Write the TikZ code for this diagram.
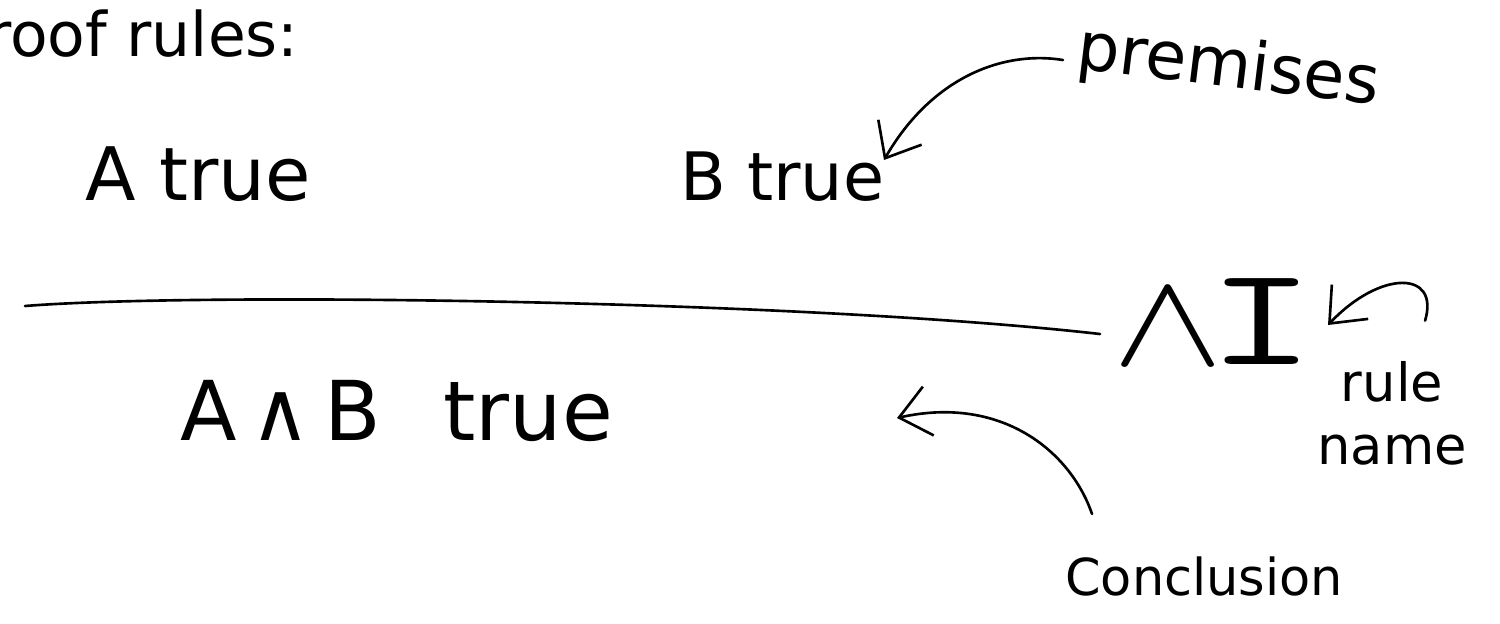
\documentclass[tikz,border=0pt]{standalone}
\usepackage{fontspec}
\setmainfont{DejaVu Sans}
\usetikzlibrary{arrows.meta}
\tikzset{
  ink/.style={line width=1.5pt, line cap=round, line join=round},
  hand/.style={inner sep=0pt, anchor=base west},
  pointer/.style={ink, -{Straight Barb[length=0.6cm,width=1.0cm]}},
}
\newcommand{\sz}[1]{\fontsize{#1}{1.2\dimexpr#1pt\relax}\selectfont}
\begin{document}
\begin{tikzpicture}[x=0.02cm,y=-0.02cm]
\useasboundingbox (0,0) rectangle (1500,623);

% heading
\node[hand, font=\sz{35}] (head) at (-14,56) {roof rules:};

% premises of the rule
\node[hand, font=\sz{42}] (pa) at (85,200) {A true};
\node[hand, font=\sz{38}] (pb) at (680,200) {B true};

% inference line
\coordinate (barL) at (25,306);
\coordinate (barR) at (1100,334);
\draw[ink] (barL) .. controls (200,292) and (800,300) .. (barR);

% rule name and conclusion
\node[hand] (rn) at (1112,364)
  {\scalebox{9.5}[7.6]{$\wedge$}\hspace{-9pt}{\ttfamily\sz{80}\scalebox{1.5}[1]{I}}};
\node[hand, font=\sz{47}] (concl) at (180,440) {A\,∧\,B\hspace{0.75em}true};

% annotations
\node[hand, font=\sz{38}, rotate=-7] (prem) at (1075,68) {premises};
\node[inner sep=0pt, align=center, font=\sz{30}] (rname) at (1392,413) {rule\\name};
\node[hand, font=\sz{29}] (cname) at (1065,595) {Conclusion};

% annotation pointers
\coordinate (ptip) at (884,160);
\coordinate (ctip) at (897,418);
\coordinate (rtip) at (1328,325);
\draw[pointer] (prem.base west) ++(-12,-8) .. controls (1000,50) and (930,80) .. (ptip);
\draw[pointer] (cname.north west) ++(27,-42) .. controls (1070,450) and (1000,395) .. (ctip);
\draw[pointer] (rname.north east) ++(-42,-40) .. controls (1440,270) and (1380,270) .. (rtip);
\end{tikzpicture}
\end{document}
